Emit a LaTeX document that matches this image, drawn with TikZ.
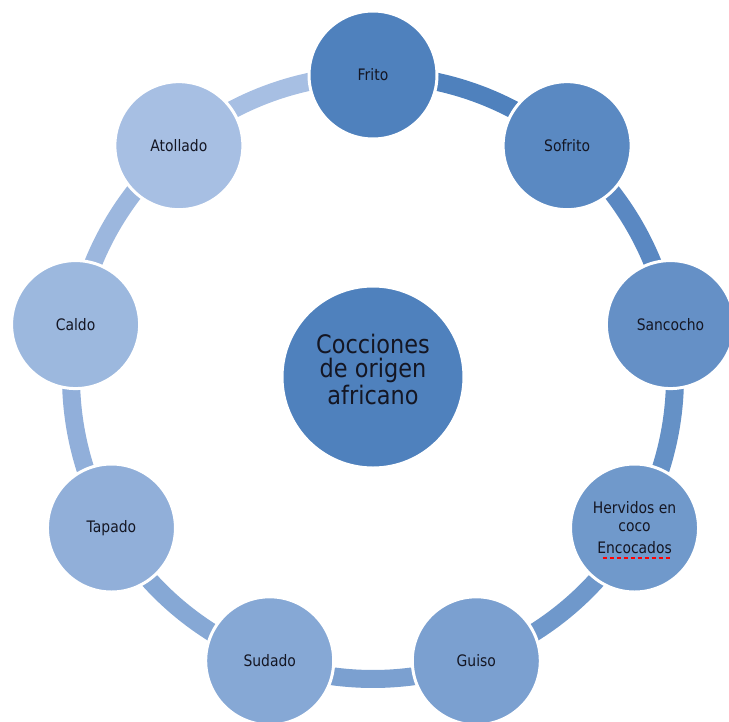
\documentclass[tikz,border=0pt]{standalone}
\usepackage{fontspec}
\setmainfont{DejaVu Sans}[FakeStretch=0.88]
\usetikzlibrary{backgrounds}
\definecolor{cycleblue}{RGB}{79,129,189}
\definecolor{cyclepale}{RGB}{167,191,227}
\definecolor{labelink}{RGB}{20,22,35}

\begin{document}
\begin{tikzpicture}[every node/.style={font=\fontsize{9}{9.7}\selectfont, text=labelink},
    stage/.style={circle, draw=white, line width=0.06cm, minimum size=2.56cm, align=center, inner sep=0pt},
    hub/.style={circle, draw=white, line width=0.06cm, fill=cycleblue, minimum size=3.64cm,
      align=center, inner sep=0pt, font=\fontsize{14.5}{13.6}\selectfont},
    ringarc/.style={line width=0.36cm, looseness=0.88}]
  \useasboundingbox (-7.46,-6.88) rectangle (7.12,7.54);
  % Centre
  \node[hub] (hub) at (0,0) {Cocciones\\de origen\\africano\\[-5pt]};
  % Ring of cooking methods
  \foreach \i/\name/\ang/\txt in {
      0/frito/90/Frito,
      1/sofrito/50/Sofrito,
      2/sancocho/10/Sancocho,
      3/hervidos/-30/{Hervidos en\\coco\\[3.3pt]Encocados},
      4/guiso/-70/Guiso,
      5/sudado/-110/Sudado,
      6/tapado/-150/Tapado,
      7/caldo/170/Caldo,
      8/atollado/130/Atollado}{
    \pgfmathtruncatemacro\pct{100-12.5*\i}
    \node[stage, fill=cycleblue!\pct!cyclepale] (\name) at (\ang:6.04) {\txt};
  }
  % Spell-check mark
  \draw[red, line width=0.05cm, dash pattern=on 0.09cm off 0.05cm]
    ([shift={(-0.64,-0.6)}]hervidos.center) -- ([shift={(0.74,-0.6)}]hervidos.center);
  % Arcs between the circles
  \begin{scope}[on background layer]
    \foreach \a/\b/\pct in {
        frito/sofrito/100,
        sofrito/sancocho/88,
        sancocho/hervidos/75,
        hervidos/guiso/63,
        guiso/sudado/50,
        sudado/tapado/38,
        tapado/caldo/25,
        caldo/atollado/13,
        atollado/frito/0}
      \draw[ringarc, cycleblue!\pct!cyclepale] (\a.center) to[bend left=20] (\b.center);
  \end{scope}
\end{tikzpicture}
\end{document}
